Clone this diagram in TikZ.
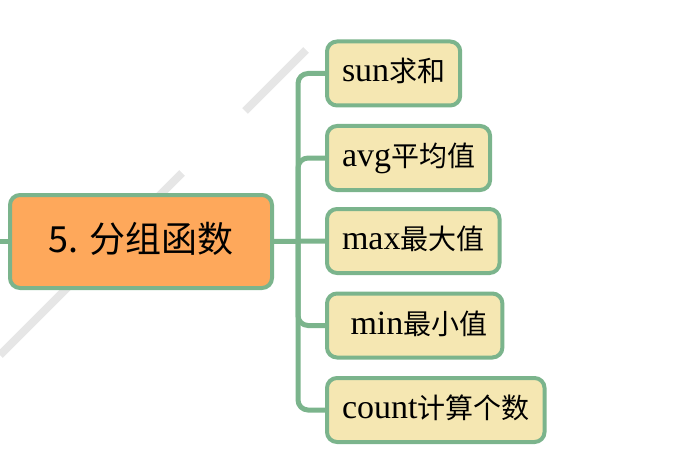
\documentclass[tikz,border=0pt]{standalone}
\usepackage{fontspec}
\setmainfont{Liberation Serif}
\newfontfamily\cjk{Noto Sans CJK SC}
\usepackage{tikz}
\usetikzlibrary{positioning}
\usepackage{xcolor}
\definecolor{leafgreen}{HTML}{7BB48C}
\definecolor{topicorange}{HTML}{FEA85B}
\definecolor{leafyellow}{HTML}{F5E7B2}
\definecolor{wmgray}{HTML}{E6E6E6}
\newcommand{\zh}[1]{{\cjk\fontsize{28}{30}\selectfont #1}}

\begin{document}
\begin{tikzpicture}[x=1pt,y=-1pt,
    topic/.style={draw=leafgreen,line width=4pt,fill=topicorange,rounded corners=10pt,
      outer sep=0pt,minimum width=262pt,inner ysep=27.5pt,text height=30pt,text depth=8pt,
      font=\cjk\fontsize{36}{40}\selectfont},
    leaf/.style={draw=leafgreen,line width=4pt,fill=leafyellow,rounded corners=10pt,
      outer sep=0pt,anchor=west,inner xsep=15pt,inner ysep=16.5pt,text height=24pt,text depth=7pt,
      font=\fontsize{34}{40}\selectfont},
    link/.style={leafgreen,line width=5pt},
    mark line/.style={wmgray,line width=8pt}]
    \useasboundingbox (0,0) rectangle (685,468);
    % watermark strokes behind
    \draw[mark line] (182,173) -- (0,355);
    \draw[mark line] (306,50) -- (245,111);

    \node[topic] (main) at (141,241.5) {5. 分组函数};
    \node[leaf] (sun)   at (327,73.5)  {sun\zh{求和}};
    \node[leaf] (avg)   at (327,158)   {avg\zh{平均值}};
    \node[leaf] (max)   at (327,241)   {max\zh{最大值}};
    \node[leaf] (min)   at (327,325.5) {\ min\zh{最小值}};
    \node[leaf] (count) at (327,410)   {count\zh{计算个数}};

    \coordinate (stub) at (0,241.5);
    \coordinate (hub) at ([xshift=26pt]main.east);
    \draw[link] (stub) -- (main.west);
    \draw[link] (main.east) -- (max.west);
    \foreach \leafname in {sun,avg,min,count}{%
      \draw[link,rounded corners=10pt] (hub) |- (\leafname.west);}
  \end{tikzpicture}
\end{document}
